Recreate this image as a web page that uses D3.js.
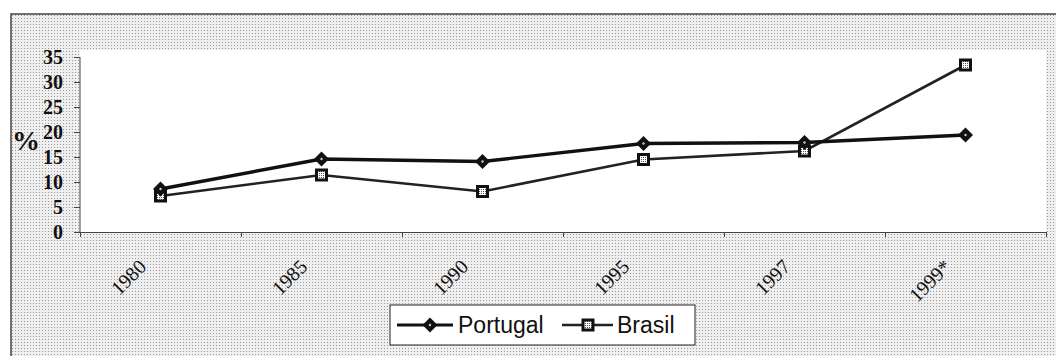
<!DOCTYPE html>
<html><head><meta charset="utf-8">
<script src="https://cdn.jsdelivr.net/npm/d3@7"></script>
<style>html,body{margin:0;padding:0;background:#fff;overflow:hidden}</style>
</head><body>
<svg id="c" width="1056" height="356"></svg>
<script>
const categories = ["1980","1985","1990","1995","1997","1999*"];
const portugal = [8.6, 14.6, 14.1, 17.7, 17.9, 19.4];
const brasil = [7.2, 11.4, 8.1, 14.5, 16.2, 33.4];
const yTicks = [0,5,10,15,20,25,30,35];
const seriesNames = ["Portugal","Brasil"];

const svg = d3.select("#c");
const defs = svg.append("defs");
const bgp = defs.append("pattern").attr("id","dots").attr("width",3).attr("height",3).attr("patternUnits","userSpaceOnUse");
bgp.append("rect").attr("width",3).attr("height",3).attr("fill","#efefef");
bgp.append("rect").attr("width",1).attr("height",1).attr("fill","#9a9a9a");
const mp = defs.append("pattern").attr("id","mk").attr("width",2).attr("height",2).attr("patternUnits","userSpaceOnUse");
mp.append("rect").attr("width",2).attr("height",2).attr("fill","#fff");
mp.append("rect").attr("x",1).attr("y",1).attr("width",1).attr("height",1).attr("fill","#555");

// chart background
svg.append("rect").attr("x",0).attr("y",0).attr("width",1056).attr("height",356).attr("fill","#fff");
svg.append("rect").attr("x",11).attr("y",14).attr("width",1060).attr("height",360)
  .attr("fill","url(#dots)").attr("stroke","#444").attr("stroke-width",1.5);

const L = 80, R = 1046, T = 57, B = 232;
const x = d3.scaleBand().domain(categories).range([L,R]).padding(0);
const xb = d3.scaleLinear().domain([0,categories.length]).range([L,R]);
const y = d3.scaleLinear().domain([0,35]).range([B,T]);

// plot area
svg.append("rect").attr("x",L).attr("y",50).attr("width",R-L).attr("height",B-50).attr("fill","#fff");

// y axis
const ya = svg.append("g").attr("transform",`translate(${L},0)`)
  .call(d3.axisLeft(y).tickValues(yTicks).tickSize(6).tickSizeOuter(0).tickPadding(11));
ya.attr("font-size",null).attr("font-family",null);
ya.select(".domain").attr("stroke","#444").attr("d",`M0,${y(35)}V${B}`);
ya.selectAll(".tick line").attr("stroke","#444");
ya.selectAll(".tick text").style("font-family","'Liberation Serif',serif").style("font-size","20px").style("font-weight","bold").attr("fill","#111").attr("dy","0.34em");

// x axis
const xa = svg.append("g").attr("transform",`translate(0,${B})`)
  .call(d3.axisBottom(xb).tickValues(d3.range(categories.length+1)).tickFormat("").tickSize(5).tickSizeOuter(0));
xa.select(".domain").attr("stroke","#444");
xa.selectAll(".tick line").attr("stroke","#444");
svg.append("g").selectAll("text").data(categories).join("text")
  .attr("transform",d=>`translate(${x(d)+x.bandwidth()/2-13},${B+36}) rotate(-45)`)
  .attr("text-anchor","end")
  .style("font-family","'Liberation Serif',serif").style("font-size","20px").attr("fill","#111")
  .text(d=>d);

// % label
svg.append("text").attr("x",26).attr("y",150).attr("text-anchor","middle")
  .style("font-family","'Liberation Serif',serif").style("font-size","28px").style("font-weight","bold").attr("fill","#111").text("%");

const cx = d => x(d)+x.bandwidth()/2;
const line = d3.line().x((d,i)=>cx(categories[i])).y(d=>y(d));

function diamond(g, px, py){
  g.append("path").attr("d",`M${px},${py-7.5}L${px+7.5},${py}L${px},${py+7.5}L${px-7.5},${py}Z`).attr("fill","#111");
  g.append("circle").attr("cx",px).attr("cy",py).attr("r",1.2).attr("fill","#ccc");
}
function square(g, px, py){
  g.append("rect").attr("x",px-6.5).attr("y",py-6.5).attr("width",13).attr("height",13).attr("fill","#111");
  g.append("rect").attr("x",px-3.5).attr("y",py-3.5).attr("width",7).attr("height",7).attr("fill","url(#mk)");
}

const gB = svg.append("g");
gB.append("path").datum(brasil).attr("d",line).attr("fill","none").attr("stroke","#222").attr("stroke-width",2.6);
const gP = svg.append("g");
gP.append("path").datum(portugal).attr("d",line).attr("fill","none").attr("stroke","#111").attr("stroke-width",3.4);
portugal.forEach((v,i)=>diamond(gP, cx(categories[i]), y(v)));
brasil.forEach((v,i)=>square(gB, cx(categories[i]), y(v)));

// legend
const lg = svg.append("g");
lg.append("rect").attr("x",390).attr("y",305).attr("width",305).attr("height",40).attr("fill","#fff").attr("stroke","#222").attr("stroke-width",1);
lg.append("line").attr("x1",397).attr("x2",453).attr("y1",325).attr("y2",325).attr("stroke","#111").attr("stroke-width",3);
diamond(lg, 430, 325);
lg.append("text").attr("x",458).attr("y",333).style("font-family","'Liberation Sans',Arial,sans-serif").style("font-size","23px").attr("fill","#111").text(seriesNames[0]);
lg.append("line").attr("x1",562).attr("x2",613).attr("y1",325).attr("y2",325).attr("stroke","#222").attr("stroke-width",2.4);
square(lg, 588, 325);
lg.append("text").attr("x",617).attr("y",333).style("font-family","'Liberation Sans',Arial,sans-serif").style("font-size","23px").attr("fill","#111").text(seriesNames[1]);
</script>
</body></html>
